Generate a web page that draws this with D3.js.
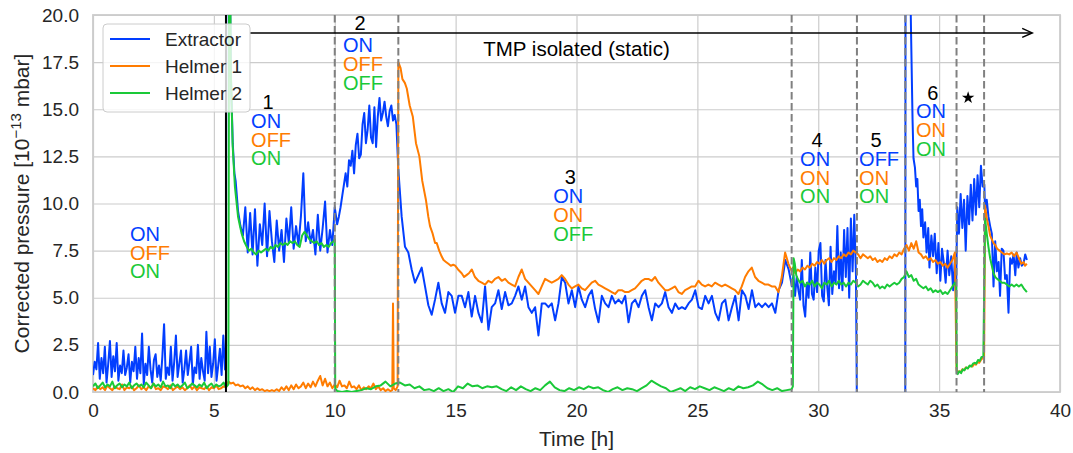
<!DOCTYPE html>
<html>
<head>
<meta charset="utf-8">
<script src="https://cdn.jsdelivr.net/npm/d3@7"></script>
<style>
body { margin: 0; background: #fff; }
text { font-family: "Liberation Sans", Arial, sans-serif; }
</style>
</head>
<body>
<div id="chart"></div>
<script>
// ---- data ----
const seriesNames = ["Extractor", "Helmer 1", "Helmer 2"];
const seriesColors = ["#023eff", "#ff7c00", "#1ac938"];

// Extractor
const extractorA = [ // 0 h .. 5.46 h, every 0.07 h
  0.9, 1.6, 1.2, 2.6, 0.7, 1.8, 1.0, 2.4, 0.5, 1.5,
  2.7, 0.8, 1.9, 1.1, 2.6, 0.6, 1.4, 1.0, 2.2, 0.9,
  1.3, 2.0, 0.5, 1.6, 1.1, 2.4, 0.7, 1.8, 1.0, 3.1,
  0.4, 1.5, 0.9, 2.4, 1.2, 0.5, 1.7, 2.0, 0.8, 1.4,
  0.6, 1.9, 3.6, 0.7, 1.3, 0.9, 2.4, 0.6, 1.6, 3.0,
  0.8, 1.5, 2.2, 0.5, 1.2, 2.2, 0.9, 1.6, 2.4, 0.4,
  1.3, 1.0, 2.5, 0.7, 1.8, 1.1, 0.6, 3.2, 1.0, 2.4,
  0.8, 1.5, 2.8, 0.6, 1.4, 2.3, 0.9, 3.0, 1.2];
const extractorJump = [[5.5, 1.3], [5.53, 45], [5.62, 28], [5.7, 17], [5.78, 13.2], [5.85, 11.6]];
const extractorB = [ // 5.9 h .. 10.0 h, every 0.1 h
  11.2, 9.6, 8.8, 8.3, 9.8, 7.4, 9.5, 7.3, 9.7, 6.7,
  8.9, 7.8, 10.0, 7.2, 9.6, 8.0, 6.9, 9.1, 7.5, 8.6,
  6.9, 9.2, 7.9, 9.8, 7.6, 8.8, 7.8, 9.3, 11.6, 8.0,
  9.0, 7.9, 8.6, 7.3, 9.4, 7.5, 8.7, 10.1, 7.4, 8.6,
  7.8, 9.8];
const extractorC = [ // 10.1 h .. 12.55 h, every 0.07 h
  8.9, 9.3, 9.8, 10.4, 11.0, 11.6, 10.9, 12.3, 12.0, 12.8,
  11.6, 13.1, 13.7, 12.4, 12.6, 14.2, 14.8, 13.2, 13.9, 15.2,
  13.5, 13.2, 15.1, 13.0, 14.6, 15.6, 14.4, 14.8, 15.4, 14.6,
  14.1, 14.9, 15.2, 14.4, 14.7, 14.2];
const extractorD = [ // 12.63 h .. 28.91 h, every 0.138 h
  11.8, 9.3, 7.7, 7.4, 6.5, 5.8, 6.2, 6.6, 5.6, 4.6,
  4.1, 4.9, 5.8, 4.7, 4.2, 5.3, 5.1, 4.2, 5.1, 5.1,
  4.5, 5.3, 4.0, 5.1, 4.2, 3.7, 5.6, 3.3, 4.5, 4.7,
  5.4, 4.4, 5.3, 4.6, 4.7, 5.1, 5.6, 4.9, 5.6, 4.5,
  4.2, 4.5, 3.0, 4.7, 4.7, 4.5, 4.7, 3.8, 4.7, 6.1,
  5.8, 4.7, 5.4, 4.5, 5.6, 4.9, 4.5, 5.1, 5.4, 4.4,
  3.7, 5.1, 4.7, 4.5, 5.1, 4.7, 4.9, 4.7, 5.1, 3.7,
  4.7, 4.9, 4.5, 5.1, 5.4, 4.5, 3.8, 4.7, 4.5, 4.7,
  5.3, 4.5, 4.2, 4.7, 4.4, 4.5, 4.4, 4.7, 4.9, 5.4,
  4.5, 4.4, 5.1, 4.7, 5.1, 4.2, 3.8, 4.7, 4.9, 3.8,
  4.5, 5.1, 3.8, 5.4, 5.1, 4.4, 5.4, 4.5, 4.7, 4.5,
  4.7, 4.5, 4.7, 4.2, 5.4, 5.8, 7.0, 6.5, 5.6];
const extractorE = [ // 28.97 h .. 31.56 h, every 0.07 h
  6.2, 5.1, 6.1, 5.4, 4.9, 7.0, 4.6, 4.0, 5.8, 5.0,
  7.4, 5.2, 4.9, 6.6, 5.3, 7.5, 7.9, 5.1, 4.8, 7.0,
  5.6, 4.6, 7.7, 5.2, 6.4, 5.8, 8.8, 5.5, 7.4, 5.4,
  8.6, 6.1, 8.7, 5.0, 9.2, 6.4, 9.4, 6.2];
const extractorOff = [[31.6, -1], [33.6, -1]];
const extractorDecay = [[33.62, 45], [33.75, 26], [33.84, 19], [33.9, 14.5], [33.94, 12.4],
  [34.0, 11.9], [34.05, 10.9], [34.1, 11.3], [34.15, 9.6], [34.2, 10.2], [34.25, 8.8],
  [34.3, 9.7], [34.35, 8.2], [34.42, 9.0], [34.48, 7.4], [34.55, 8.7], [34.6, 6.6],
  [34.68, 8.3], [34.75, 7.2], [34.82, 8.4], [34.9, 6.3], [34.97, 7.9], [35.05, 5.9],
  [35.12, 7.6], [35.2, 6.8], [35.27, 5.8], [35.35, 7.5], [35.42, 6.2], [35.5, 7.2],
  [35.58, 5.4], [35.65, 7.0], [35.7, 5.1]];
const extractorStar = [ // 35.75 h .. 36.8 h, every 0.07 h
  9.8, 8.4, 10.5, 8.7, 10.2, 7.5, 10.4, 8.9, 11.0, 9.1,
  11.3, 9.4, 11.5, 9.8, 12.0, 10.9];
const extractorTail = [[36.87, 11.0], [36.9, 9.6], [36.97, 10.2], [37.04, 9.3], [37.11, 8.8],
  [37.18, 8.4], [37.25, 5.6], [37.32, 8.0], [37.39, 6.4], [37.46, 6.9], [37.52, 5.1],
  [37.59, 7.6], [37.66, 7.5], [37.73, 6.0], [37.8, 6.2], [37.87, 4.2], [37.94, 7.1],
  [38.01, 6.8], [38.08, 7.3], [38.15, 6.2], [38.21, 7.4], [38.28, 6.6], [38.35, 7.1],
  [38.42, 6.7], [38.49, 6.8], [38.56, 7.3], [38.63, 7.0]];

// Helmer 1
const helmer1A = [ // 0 h .. 5.5 h, every 0.1 h
  0.2, 0.1, 0.3, 0.15, 0.25, 0.1, 0.35, 0.2, 0.1, 0.3,
  0.2, 0.15, 0.4, 0.1, 0.25, 0.2, 0.3, 0.1, 0.2, 0.35,
  0.15, 0.25, 0.1, 0.3, 0.2, 0.45, 0.15, 0.2, 0.1, 0.3,
  0.25, 0.15, 0.35, 0.1, 0.2, 0.3, 0.15, 0.25, 0.1, 0.2,
  0.35, 0.15, 0.3, 0.1, 0.25, 0.2, 0.15, 0.3, 0.1, 0.25,
  0.2, 0.35, 0.15, 0.2, 0.3, 0.25];
const helmer1B = [ // 5.6 h .. 12.3 h, every 0.1 h
  0.55, 0.45, 0.5, 0.35, 0.4, 0.3, 0.35, 0.2, 0.3, 0.15,
  0.25, 0.1, 0.2, 0.1, 0.15, 0.05, 0.1, 0.05, 0.1, 0.05,
  0.15, 0.05, 0.25, 0.1, 0.3, 0.1, 0.35, 0.15, 0.4, 0.2,
  0.3, 0.5, 0.2, 0.45, 0.25, 0.55, 0.3, 0.6, 0.85, 0.35,
  0.7, 0.3, 0.5, 0.2, 0.4, 0.25, 0.6, 0.3, 0.35, 0.2,
  0.55, 0.25, 0.3, 0.15, 0.35, 0.1, 0.25, 0.15, 0.3, 0.2,
  0.45, 0.15, 0.3, 0.1, 0.2, 0.05, 0.15, 0.05];
const helmer1Decay = [[12.38, 0.1], [12.41, 4.7], [12.44, 0.2], [12.52, 0.1], [12.6, 0.3],
  [12.63, 17.5], [12.72, 17.2], [12.8, 16.6], [12.9, 16.4], [12.98, 16.1], [13.1, 15.2],
  [13.23, 14.6], [13.36, 13.2], [13.5, 12.5], [13.62, 11.2], [13.77, 10.2], [13.87, 9.3],
  [13.94, 8.8], [14.05, 8.4], [14.15, 7.9], [14.22, 7.9], [14.32, 7.5], [14.42, 7.2],
  [14.5, 7.0], [14.6, 6.9], [14.7, 6.8], [14.8, 6.7], [14.9, 6.75], [14.98, 6.7],
  [15.1, 6.5], [15.25, 6.3], [15.35, 6.1], [15.45, 6.2], [15.55, 6.3], [15.67, 6.5],
  [15.8, 6.1], [15.94, 5.9]];
const helmer1C = [ // 16.08 h .. 28.9 h, every 0.1379 h
  5.8, 5.7, 5.9, 5.8, 6.0, 6.1, 5.9, 6.0, 5.8, 5.7,
  5.6, 6.1, 6.5, 6.0, 5.8, 5.6, 5.4, 5.2, 5.6, 6.0,
  5.9, 5.8, 5.9, 6.0, 6.2, 6.0, 5.7, 5.5, 5.6, 5.7,
  5.5, 5.4, 5.6, 5.8, 5.9, 5.7, 5.6, 5.5, 5.4, 5.3,
  5.2, 5.4, 5.4, 5.3, 5.3, 5.4, 5.5, 5.7, 5.9, 6.0,
  6.0, 5.9, 6.1, 5.8, 5.6, 5.4, 5.4, 5.5, 5.6, 5.3,
  5.2, 5.4, 5.5, 5.6, 5.6, 5.9, 5.7, 5.6, 5.7, 5.6,
  5.8, 5.7, 5.6, 5.7, 5.6, 5.5, 5.4, 5.2, 5.6, 6.1,
  6.4, 6.6, 6.1, 5.9, 5.8, 5.7, 5.7, 5.6, 5.6, 5.3,
  6.1, 7.4, 6.8, 6.4];
const helmer1D = [ // 28.95 h .. 35.65 h, every 0.1 h
  6.6, 6.3, 6.5, 6.4, 6.6, 6.5, 6.7, 6.6, 6.8, 6.7,
  6.9, 6.8, 7.0, 6.8, 7.0, 7.1, 6.9, 7.1, 7.0, 7.2,
  7.1, 7.3, 7.2, 7.4, 7.3, 7.5, 7.4, 7.3, 7.1, 7.3,
  7.2, 7.1, 7.2, 7.0, 7.1, 6.9, 7.0, 6.9, 7.1, 7.0,
  7.2, 7.1, 7.3, 7.2, 7.4, 7.3, 7.6, 7.8, 7.5, 7.9,
  7.6, 8.0, 7.4, 7.3, 7.1, 7.2, 7.0, 7.1, 6.9, 7.0,
  6.8, 6.9, 6.7, 6.8, 6.6, 6.8, 7.0, 7.4];
const helmer1Drop = [[35.72, 1.2]];
const helmer1E = [ // 35.75 h .. 36.8 h, every 0.07 h
  1.0, 1.1, 1.05, 1.2, 1.15, 1.3, 1.25, 1.35, 1.4, 1.35, 1.5, 1.45, 1.6, 1.55, 1.7, 1.8];
const helmer1Tail = [[36.86, 1.9], [36.9, 9.9], [36.97, 9.2], [37.04, 8.8], [37.11, 8.3],
  [37.18, 8.1], [37.25, 7.9], [37.32, 7.8], [37.4, 7.6], [37.5, 7.5], [37.6, 7.4],
  [37.7, 7.3], [37.8, 7.35], [37.9, 7.3], [38.0, 7.4], [38.1, 7.2], [38.2, 7.4],
  [38.3, 7.1], [38.4, 6.8], [38.5, 6.9], [38.55, 6.7], [38.63, 6.8]];

// Helmer 2
const helmer2A = [ // 0 h .. 5.6 h, every 0.1 h
  0.3, 0.45, 0.2, 0.35, 0.5, 0.25, 0.4, 0.3, 0.55, 0.2,
  0.35, 0.45, 0.25, 0.4, 0.3, 0.5, 0.2, 0.35, 0.45, 0.3,
  0.4, 0.25, 0.5, 0.35, 0.2, 0.45, 0.3, 0.4, 0.25, 0.55,
  0.3, 0.35, 0.2, 0.45, 0.3, 0.4, 0.25, 0.35, 0.5, 0.2,
  0.3, 0.45, 0.35, 0.25, 0.4, 0.3, 0.5, 0.2, 0.35, 0.45,
  0.25, 0.4, 0.3, 0.35, 0.5, 0.25, 0.4];
const helmer2Jump = [[5.64, 30], [5.7, 17], [5.78, 13], [5.87, 10.9], [6.0, 9.3],
  [6.08, 8.8], [6.15, 8.4], [6.25, 8.0], [6.36, 7.7]];
const helmer2B = [ // 6.45 h .. 9.95 h, every 0.1 h
  7.5, 7.6, 7.4, 7.3, 7.5, 7.4, 7.5, 7.6, 7.5, 7.7,
  7.6, 7.8, 7.7, 7.9, 7.8, 7.9, 7.8, 8.0, 7.9, 8.0,
  7.8, 7.7, 8.3, 8.5, 8.3, 8.1, 8.0, 7.9, 8.0, 7.8,
  7.9, 7.7, 7.8, 7.7, 7.9, 8.0];
const helmer2Drop = [[10.0, 8.1], [10.02, 0.2]];
const helmer2C = [ // 10.1 h .. 28.9 h, every 0.2 h
  0.05, 0.0, 0.05, 0.0, 0.05, 0.1, 0.2, 0.15, 0.3, 0.35,
  0.55, 0.3, 0.45, 0.5, 0.35, 0.4, 0.2, 0.3, 0.1, 0.15,
  0.05, 0.2, 0.05, 0.15, 0.0, 0.3, 0.2, 0.45, 0.3, 0.35,
  0.2, 0.3, 0.25, 0.3, 0.15, 0.05, 0.25, 0.1, 0.3, 0.15,
  0.05, 0.2, 0.1, 0.35, 0.55, 0.25, 0.1, 0.05, 0.2, 0.1,
  0.25, 0.15, 0.3, 0.2, 0.25, 0.1, 0.0, 0.15, 0.25, 0.1,
  0.2, 0.15, 0.05, 0.2, 0.35, 0.6, 0.45, 0.3, 0.2, 0.0,
  0.1, 0.2, 0.05, 0.25, 0.15, 0.3, 0.2, 0.1, 0.25, 0.15,
  0.05, 0.2, 0.1, 0.3, 0.2, 0.25, 0.35, 0.55, 0.4, 0.2,
  0.1, 0.2, 0.05, 0.1, 0.15];
const helmer2Rise = [[28.95, 0.3], [28.98, 7.1], [29.03, 6.8], [29.09, 6.2]];
const helmer2D = [ // 29.15 h .. 35.65 h, every 0.1 h
  6.0, 5.8, 5.9, 5.6, 5.8, 5.7, 5.9, 5.6, 5.8, 5.7,
  5.5, 5.8, 5.7, 5.9, 5.6, 5.8, 5.7, 5.9, 5.7, 5.8,
  5.6, 5.8, 5.7, 5.9, 5.8, 5.6, 5.7, 5.9, 5.8, 5.7,
  5.9, 5.8, 5.6, 5.7, 5.5, 5.6, 5.5, 5.7, 5.6, 5.7,
  5.8, 5.7, 5.8, 6.0, 6.1, 6.4, 6.1, 6.2, 5.9, 6.0,
  5.7, 5.6, 5.5, 5.6, 5.4, 5.5, 5.3, 5.4, 5.3, 5.4,
  5.2, 5.3, 5.2, 5.4, 5.6, 5.8];
const helmer2Drop2 = [[35.71, 5.6], [35.73, 1.0]];
const helmer2E = [ // 35.77 h .. 36.75 h, every 0.07 h
  0.95, 1.1, 1.0, 1.2, 1.15, 1.3, 1.25, 1.4, 1.35, 1.5, 1.55, 1.5, 1.7, 1.65, 1.85];
const helmer2Tail = [[36.83, 1.9], [36.9, 9.2], [36.97, 8.4], [37.04, 7.7], [37.11, 7.1],
  [37.18, 6.7], [37.25, 6.3], [37.32, 6.1], [37.4, 6.0], [37.5, 5.9], [37.6, 5.8],
  [37.7, 5.8], [37.8, 5.7], [37.9, 5.6], [38.0, 5.7], [38.1, 5.6], [38.2, 5.7],
  [38.3, 5.6], [38.4, 5.7], [38.5, 5.5], [38.63, 5.3]];

// events and annotations
const eventTimes = [10.0, 12.63, 28.9, 31.6, 33.6, 35.72, 36.86];
const startTime = 5.5;
const arrowRange = [6.5, 38.85], arrowLevel = 19.05;
const arrowLabel = "TMP isolated (static)", arrowLabelT = 20.0, arrowLabelV = 18.2;
const stepNames = ["", "1", "2", "3", "4", "5", "6"];
const stepT = [1.53, 6.54, 10.34, 19.04, 29.25, 31.69, 34.04];
const stepV = [8.4, 14.4, 18.42, 10.4, 12.38, 12.38, 14.92];
const stepNameV = [null, 15.38, 19.58, 11.39, 13.38, 13.38, 15.89];
const stepStates = [["ON", "OFF", "ON"], ["ON", "OFF", "ON"], ["ON", "OFF", "OFF"],
  ["ON", "ON", "OFF"], ["ON", "ON", "ON"], ["OFF", "ON", "ON"], ["ON", "ON", "ON"]];
const starT = 36.2, starV = 15.61;

// ---- chart ----
function sampled(t0, dt, vals) { return vals.map((v, i) => [t0 + i * dt, v]); }

const extractorData = [].concat(sampled(0, 0.07, extractorA), extractorJump,
  sampled(5.9, 0.1, extractorB), sampled(10.1, 0.07, extractorC),
  sampled(12.63, 0.138, extractorD), sampled(28.97, 0.07, extractorE), extractorOff,
  extractorDecay, sampled(35.75, 0.07, extractorStar), extractorTail);
const helmer1Data = [].concat(sampled(0, 0.1, helmer1A), sampled(5.6, 0.1, helmer1B),
  helmer1Decay, sampled(16.08, 0.1379, helmer1C), sampled(28.95, 0.1, helmer1D),
  helmer1Drop, sampled(35.75, 0.07, helmer1E), helmer1Tail);
const helmer2Data = [].concat(sampled(0, 0.1, helmer2A), helmer2Jump,
  sampled(6.45, 0.1, helmer2B), helmer2Drop, sampled(10.1, 0.2, helmer2C), helmer2Rise,
  sampled(29.15, 0.1, helmer2D), helmer2Drop2, sampled(35.77, 0.07, helmer2E), helmer2Tail);
const allSeries = [extractorData, helmer1Data, helmer2Data];

const svg_width = 1073, svg_height = 453;
const plot = { left: 93, right: 1060, top: 15, bottom: 392 };

const svg = d3.select("#chart")
    .append("svg")
    .attr("width", svg_width)
    .attr("height", svg_height)
    .style("background", "#fff");

const x = d3.scaleLinear().domain([0, 40]).range([plot.left, plot.right]);
const y = d3.scaleLinear().domain([0, 20]).range([plot.bottom, plot.top]);

// grid
svg.append("g")
    .attr("transform", `translate(0, ${plot.bottom})`)
    .call(d3.axisBottom(x).tickValues(d3.range(0, 41, 5)).tickSize(-(plot.bottom - plot.top)).tickFormat(d3.format("d")).tickPadding(12))
    .call(g => g.select(".domain").remove())
    .call(g => g.selectAll("line").attr("stroke", "#cccccc").attr("stroke-width", 1.2))
    .call(g => g.selectAll("text").attr("fill", "#262626").style("font-size", "19px")
        .attr("font-family", "Liberation Sans, Arial, sans-serif"));

svg.append("g")
    .attr("transform", `translate(${plot.left}, 0)`)
    .call(d3.axisLeft(y).tickValues(d3.range(0, 20.1, 2.5)).tickSize(-(plot.right - plot.left)).tickFormat(d3.format(".1f")).tickPadding(14))
    .call(g => g.select(".domain").remove())
    .call(g => g.selectAll("line").attr("stroke", "#cccccc").attr("stroke-width", 1.2))
    .call(g => g.selectAll("text").attr("fill", "#262626").style("font-size", "19px")
        .attr("font-family", "Liberation Sans, Arial, sans-serif"));

svg.append("rect")
    .attr("x", plot.left).attr("y", plot.top)
    .attr("width", plot.right - plot.left).attr("height", plot.bottom - plot.top)
    .attr("fill", "none").attr("stroke", "#cccccc").attr("stroke-width", 1.8);

// axis labels
svg.append("text")
    .attr("x", (plot.left + plot.right) / 2).attr("y", 446)
    .attr("text-anchor", "middle").style("font-size", "21px").attr("fill", "#262626")
    .text("Time [h]");

const ylab = svg.append("text")
    .attr("transform", `translate(29, ${(plot.top + plot.bottom) / 2}) rotate(-90)`)
    .attr("text-anchor", "middle").style("font-size", "21px").attr("fill", "#262626");
ylab.append("tspan").text("Corrected pressure [10");
ylab.append("tspan").attr("dy", -8).style("font-size", "15px").text("\u221213");
ylab.append("tspan").attr("dy", 8).text(" mbar]");

// data lines
svg.append("clipPath").attr("id", "plot-clip")
    .append("rect")
    .attr("x", plot.left).attr("y", plot.top)
    .attr("width", plot.right - plot.left).attr("height", plot.bottom - plot.top);

const line = d3.line().x(d => x(d[0])).y(d => y(d[1]));

svg.append("g").attr("clip-path", "url(#plot-clip)")
    .selectAll("path")
    .data(allSeries)
    .enter()
    .append("path")
    .attr("d", d => line(d))
    .attr("fill", "none")
    .attr("stroke", (d, i) => seriesColors[i])
    .attr("stroke-width", 2)
    .attr("stroke-linejoin", "round");

// event lines
svg.append("line")
    .attr("x1", x(startTime)).attr("x2", x(startTime))
    .attr("y1", plot.top).attr("y2", plot.bottom)
    .attr("stroke", "#000").attr("stroke-width", 2);

svg.selectAll(".event")
    .data(eventTimes)
    .enter()
    .append("line")
    .classed("event", true)
    .attr("x1", d => x(d)).attr("x2", d => x(d))
    .attr("y1", plot.top).attr("y2", plot.bottom)
    .attr("stroke", "#808080").attr("stroke-width", 2)
    .attr("stroke-dasharray", "7.5,3.5");

// arrow
const ay = y(arrowLevel), ax1 = x(arrowRange[1]);
svg.append("line")
    .attr("x1", x(arrowRange[0])).attr("x2", ax1)
    .attr("y1", ay).attr("y2", ay)
    .attr("stroke", "#000").attr("stroke-width", 1.5);
svg.append("path")
    .attr("d", `M${ax1 - 10},${ay - 4.5} L${ax1},${ay} L${ax1 - 10},${ay + 4.5}`)
    .attr("fill", "none").attr("stroke", "#000").attr("stroke-width", 1.5);
svg.append("text")
    .attr("x", x(arrowLabelT)).attr("y", y(arrowLabelV) + 7)
    .attr("text-anchor", "middle").style("font-size", "20.5px").attr("fill", "#000")
    .text(arrowLabel);

// step annotations
stepT.forEach(function (t, i) {
    const left = x(t), top = y(stepV[i]);
    if (stepNames[i]) {
        svg.append("text")
            .attr("x", left + 17).attr("y", y(stepNameV[i]) + 7.2)
            .attr("text-anchor", "middle").style("font-size", "20px").attr("fill", "#000")
            .text(stepNames[i]);
    }
    stepStates[i].forEach(function (s, k) {
        svg.append("text")
            .attr("x", left).attr("y", top + k * 18.8 + 7.2)
            .style("font-size", "20px").attr("fill", seriesColors[k])
            .text(s);
    });
});

svg.append("path")
    .attr("transform", `translate(${x(starT)}, ${y(starV)})`)
    .attr("d", d3.symbol(d3.symbolStar).size(48)())
    .attr("fill", "#000");

// legend
const legend = svg.append("g").attr("transform", "translate(103, 24)");
legend.append("rect")
    .attr("width", 147).attr("height", 88).attr("rx", 4)
    .attr("fill", "#fff").attr("fill-opacity", 0.8)
    .attr("stroke", "#cccccc").attr("stroke-width", 1);
seriesNames.forEach(function (name, i) {
    legend.append("line")
        .attr("x1", 7).attr("x2", 47)
        .attr("y1", 15 + i * 27).attr("y2", 15 + i * 27)
        .attr("stroke", seriesColors[i]).attr("stroke-width", 2.2);
    legend.append("text")
        .attr("x", 62).attr("y", 15 + i * 27 + 7)
        .style("font-size", "19px").attr("fill", "#262626")
        .text(name);
});
</script>
</body>
</html>
